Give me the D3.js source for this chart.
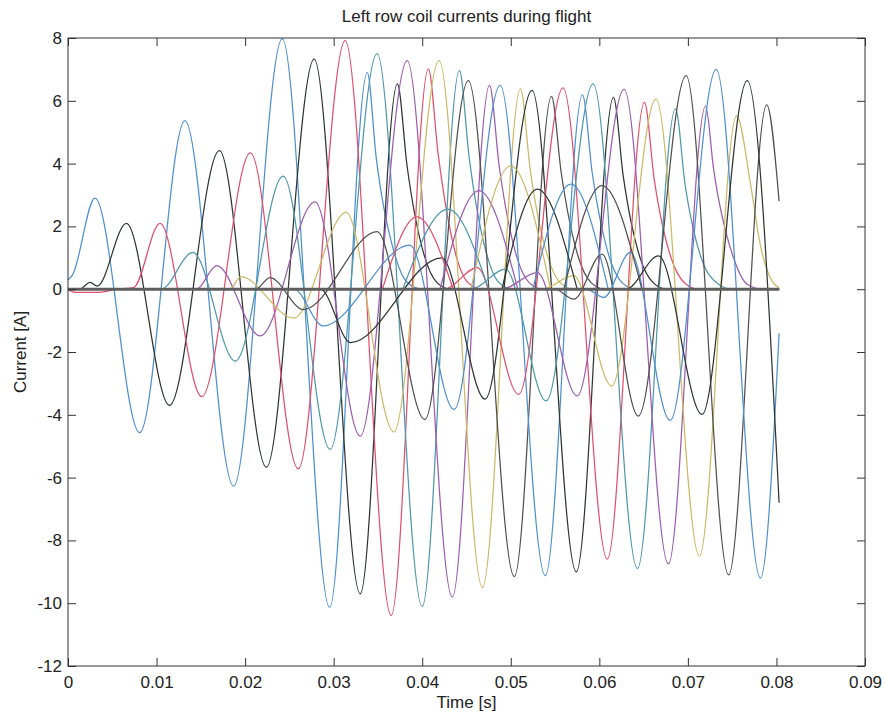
<!DOCTYPE html>
<html>
<head>
<meta charset="utf-8">
<script src="https://cdn.jsdelivr.net/npm/d3@7"></script>
<style>
  body { margin: 0; background: #fff; }
  svg { font-family: "Liberation Sans", Arial, sans-serif; }
  .coil { fill: none; stroke-width: 1.25; stroke-linejoin: round; }
  .axis text { font-size: 17px; fill: #222; }
  .axis line { stroke: #333; }
</style>
</head>
<body>
<svg width="885" height="715"></svg>
<script>
// old matlab colour order, faded like the scan
const colorOrder = ["#4f8fd0", "#2e3632", "#e0506e", "#4f98ad", "#9c5cb0", "#cdb866", "#505050"];

const xTicks = [0, 0.01, 0.02, 0.03, 0.04, 0.05, 0.06, 0.07, 0.08, 0.09];
const xTickLabels = ["0", "0.01", "0.02", "0.03", "0.04", "0.05", "0.06", "0.07", "0.08", "0.09"];
const yTicks = [-12, -10, -8, -6, -4, -2, 0, 2, 4, 6, 8];
const yTickLabels = ["-12", "-10", "-8", "-6", "-4", "-2", "0", "2", "4", "6", "8"];

// [time s, current A], read at peaks / troughs / tails
const coil1 = [[0, 0.3], [0.0005, 0.45], [0.00305, 2.9], [0.0081, -4.57], [0.0132, 5.37], [0.0187, -6.27], [0.0242, 7.97], [0.02955, -10.13], [0.0338, 6.9], [0.0348, 4.2], [0.0368, 1.2], [0.0383, 0.22], [0.04, 0], [0.0803, 0]];
const coil2 = [[0, 0], [0.0013, 0], [0.0025, 0.22], [0.0033, 0.1], [0.0066, 2.1], [0.01146, -3.7], [0.0171, 4.41], [0.0224, -5.67], [0.0278, 7.33], [0.033, -9.7], [0.0372, 6.54], [0.0383, 3.9], [0.0402, 1.1], [0.0417, 0.2], [0.0432, 0], [0.0803, 0]];
const coil3 = [[0, 0], [0.0008, -0.1], [0.0035, -0.1], [0.0055, 0], [0.0074, 0.05], [0.0104, 2.1], [0.0151, -3.42], [0.0206, 4.34], [0.026, -5.72], [0.0313, 7.92], [0.0365, -10.39], [0.0407, 7.02], [0.0418, 4.3], [0.0437, 1.2], [0.0452, 0.2], [0.0467, 0], [0.0803, 0]];
const coil4 = [[0, 0], [0.0105, 0], [0.0141, 1.17], [0.0189, -2.29], [0.0243, 3.6], [0.0296, -5.1], [0.0349, 7.5], [0.04, -10.1], [0.0442, 6.96], [0.0453, 4.2], [0.0472, 1.2], [0.0487, 0.2], [0.0502, 0], [0.0803, 0]];
const coil5 = [[0, 0], [0.0145, 0], [0.0168, 0.75], [0.0217, -1.49], [0.0279, 2.78], [0.033, -4.68], [0.0383, 7.28], [0.0434, -9.8], [0.0476, 6.49], [0.0487, 3.9], [0.0506, 1.1], [0.0521, 0.2], [0.0536, 0], [0.0803, 0]];
const coil6 = [[0, 0], [0.0183, 0], [0.0195, 0.4], [0.0255, -0.92], [0.0314, 2.45], [0.0368, -4.55], [0.0419, 7.28], [0.0468, -9.5], [0.0511, 6.38], [0.0522, 3.8], [0.0541, 1.1], [0.0556, 0.2], [0.0571, 0], [0.0803, 0]];
const coil7 = [[0, 0], [0.0212, 0], [0.0228, 0.37], [0.0266, -0.65], [0.0349, 1.83], [0.0403, -4.15], [0.0452, 6.64], [0.0504, -9.15], [0.0546, 6.14], [0.0557, 3.7], [0.0576, 1.05], [0.0591, 0.2], [0.0606, 0], [0.0803, 0]];
const coil8 = [[0, 0], [0.0255, 0], [0.0288, -1.17], [0.0386, 1.4], [0.0436, -3.83], [0.0488, 6.49], [0.0539, -9.12], [0.0581, 6.19], [0.0592, 3.7], [0.0611, 1.05], [0.0626, 0.2], [0.0641, 0], [0.0803, 0]];
const coil9 = [[0, 0], [0.0285, 0], [0.0319, -1.7], [0.0422, 1.0], [0.0471, -3.5], [0.0524, 6.33], [0.0574, -9.0], [0.0616, 6.11], [0.0627, 3.6], [0.0646, 1.0], [0.0661, 0.2], [0.0676, 0], [0.0803, 0]];
const coil10 = [[0, 0], [0.0425, 0], [0.0462, 0.69], [0.0509, -3.35], [0.0559, 6.41], [0.0609, -8.6], [0.0651, 5.95], [0.0662, 3.5], [0.0681, 1.0], [0.0697, 0.18], [0.0712, 0], [0.0803, 0]];
const coil11 = [[0, 0], [0.0455, 0], [0.0494, 0.64], [0.054, -3.56], [0.0593, 6.54], [0.0643, -8.9], [0.0686, 5.74], [0.0697, 3.3], [0.0715, 1.0], [0.0735, 0.15], [0.075, 0], [0.0803, 0]];
const coil12 = [[0, 0], [0.049, 0], [0.053, 0.53], [0.0575, -3.4], [0.0628, 6.36], [0.0678, -8.75], [0.072, 5.83], [0.0729, 3.83], [0.0752, 0.96], [0.0767, 0.16], [0.0785, 0], [0.0803, 0]];
const coil13 = [[0, 0], [0.0535, 0], [0.0571, 0.43], [0.0614, -3.08], [0.0664, 6.06], [0.0713, -8.5], [0.0755, 5.53], [0.0771, 3.3], [0.0782, 1.38], [0.0796, 0.22], [0.0803, 0.05]];
const coil14 = [[0, 0], [0.055, 0], [0.0571, -0.32], [0.0603, 1.12], [0.0644, -4.04], [0.0698, 6.8], [0.0746, -9.1], [0.0789, 5.87], [0.0803, 2.8]];
const coil15 = [[0, 0], [0.0585, 0], [0.0605, -0.26], [0.0635, 1.17], [0.068, -4.18], [0.0732, 7.0], [0.0782, -9.2], [0.0803, -1.4]];
const coil16 = [[0, 0], [0.063, 0], [0.0667, 1.06], [0.0716, -3.99], [0.0767, 6.64], [0.0803, -6.8]];

// separate humps seen between 0.035 and 0.065 s, with their colour slot
const humpColors = [2, 3, 4, 5, 1, 0, 6];
const hump1 = [[0.0355, 0], [0.0394, 2.3], [0.0435, 0]];
const hump2 = [[0.0378, 0], [0.0429, 2.55], [0.0475, 0]];
const hump3 = [[0.042, 0], [0.0464, 3.14], [0.0508, 0]];
const hump4 = [[0.0455, 0], [0.05, 3.93], [0.0545, 0]];
const hump5 = [[0.049, 0], [0.053, 3.19], [0.0575, 0]];
const hump6 = [[0.0525, 0], [0.0568, 3.35], [0.061, 0]];
const hump7 = [[0.056, 0], [0.0603, 3.3], [0.0648, 0]];

// the idle coils all sit on zero
const idleCoils = [[0, 0], [0.0803, 0]];

const coils = [coil1, coil2, coil3, coil4, coil5, coil6, coil7, coil8,
  coil9, coil10, coil11, coil12, coil13, coil14, coil15, coil16];
const humps = [hump1, hump2, hump3, hump4, hump5, hump6, hump7];

const svg = d3.select("svg");
const plot = { left: 68, right: 865, top: 38, bottom: 666 };

const xScale = d3.scaleLinear().domain([0, 0.09]).range([plot.left, plot.right]);
const yScale = d3.scaleLinear().domain([-12, 8]).range([plot.bottom, plot.top]);

const line = d3.line()
  .x((d) => xScale(d[0]))
  .y((d) => yScale(d[1]))
  .curve(d3.curveMonotoneX);

const fig = svg.append("g");

fig.selectAll(".coil")
  .data(coils)
  .enter()
  .append("path")
  .attr("class", "coil")
  .attr("d", line)
  .attr("stroke", (d, i) => colorOrder[i % colorOrder.length]);

fig.selectAll(".hump")
  .data(humps)
  .enter()
  .append("path")
  .attr("class", "coil hump")
  .attr("d", line)
  .attr("stroke", (d, i) => colorOrder[humpColors[i]]);

fig.append("path")
  .datum(idleCoils)
  .attr("d", line)
  .attr("fill", "none")
  .attr("stroke", "#5e5e5e")
  .attr("stroke-width", 3);

// axes, matlab box with inward ticks
const xAxis = svg.append("g")
  .attr("class", "axis")
  .attr("transform", `translate(0,${plot.bottom})`)
  .call(d3.axisBottom(xScale).tickValues(xTicks)
    .tickFormat((d, i) => xTickLabels[i]).tickSizeInner(-8).tickSizeOuter(0).tickPadding(10));
const xTop = svg.append("g")
  .attr("class", "axis")
  .attr("transform", `translate(0,${plot.top})`)
  .call(d3.axisTop(xScale).tickValues(xTicks).tickFormat("").tickSizeInner(-8).tickSizeOuter(0));
const yAxis = svg.append("g")
  .attr("class", "axis")
  .attr("transform", `translate(${plot.left},0)`)
  .call(d3.axisLeft(yScale).tickValues(yTicks)
    .tickFormat((d, i) => yTickLabels[i]).tickSizeInner(-8).tickSizeOuter(0).tickPadding(6));
const yRight = svg.append("g")
  .attr("class", "axis")
  .attr("transform", `translate(${plot.right},0)`)
  .call(d3.axisRight(yScale).tickValues(yTicks).tickFormat("").tickSizeInner(-8).tickSizeOuter(0));

svg.selectAll(".axis .domain").remove();
svg.selectAll(".axis text").attr("font-family", null);

svg.append("rect")
  .attr("x", plot.left)
  .attr("y", plot.top)
  .attr("width", plot.right - plot.left)
  .attr("height", plot.bottom - plot.top)
  .attr("fill", "none")
  .attr("stroke", "#333")
  .attr("stroke-width", 1);

svg.append("text")
  .attr("x", (plot.left + plot.right) / 2)
  .attr("y", 22)
  .attr("text-anchor", "middle")
  .attr("font-size", "17px")
  .attr("fill", "#222")
  .text("Left row coil currents during flight");

svg.append("text")
  .attr("x", (plot.left + plot.right) / 2)
  .attr("y", 708)
  .attr("text-anchor", "middle")
  .attr("font-size", "17px")
  .attr("fill", "#222")
  .text("Time [s]");

svg.append("text")
  .attr("transform", `translate(26,${(plot.top + plot.bottom) / 2}) rotate(-90)`)
  .attr("text-anchor", "middle")
  .attr("font-size", "17px")
  .attr("fill", "#222")
  .text("Current [A]");
</script>
</body>
</html>
